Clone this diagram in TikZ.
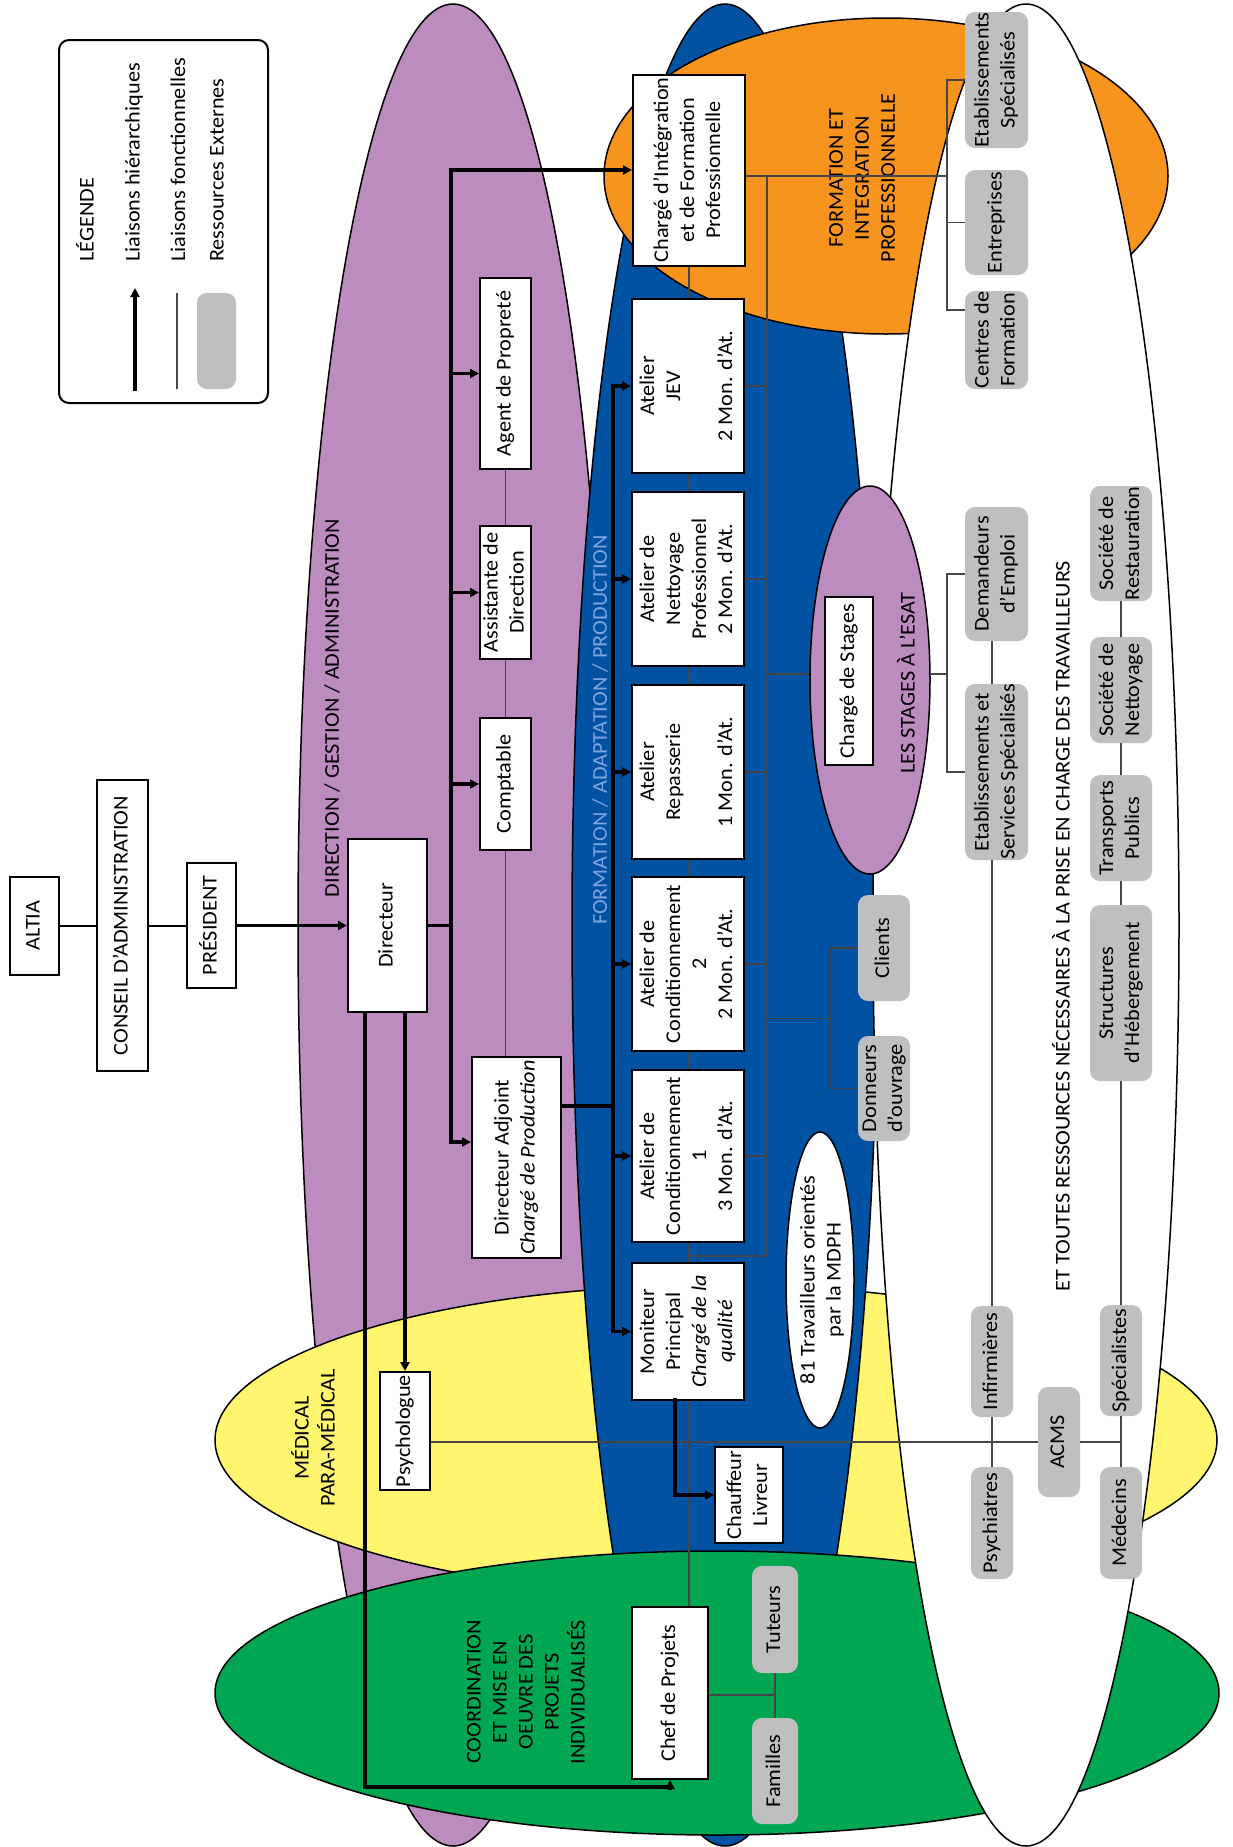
\documentclass[tikz,border=0pt]{standalone}
\usepackage{fontspec}
\setmainfont[FakeStretch=1.06]{Carlito}
\usepackage{graphicx}
\usetikzlibrary{arrows.meta,shapes.geometric}

\definecolor{cpurple}{RGB}{188,140,191}
\definecolor{cblue}{RGB}{2,82,163}
\definecolor{corange}{RGB}{247,148,30}
\definecolor{cyellow}{RGB}{255,245,110}
\definecolor{cgreen}{RGB}{0,166,81}
\definecolor{cgray}{RGB}{191,191,191}
\definecolor{cline}{RGB}{70,70,70}
\definecolor{ctext}{RGB}{125,165,225}

\newcommand{\rt}[1]{\rotatebox{90}{\begin{tabular}{@{}c@{}}#1\end{tabular}}}

\begin{document}
\begin{tikzpicture}[x=1pt,y=-1pt,
  font=\fontsize{21}{26}\selectfont,
  zone/.style={ellipse, draw=black, line width=1.5pt, inner sep=0pt},
  wbox/.style={draw=black, line width=2pt, fill=white, inner sep=0pt},
  gbox/.style={fill=cgray, rounded corners=10pt, inner sep=0pt},
  hier/.style={line width=3.5pt, line cap=rect, -{Triangle[length=9pt,width=9pt]}},
  hline/.style={line width=3.5pt, line cap=rect},
  func/.style={draw=cline, line width=1.2pt},
  lab/.style={inner sep=0pt, rotate=90, align=center},
]
\fill[white] (0,0) rectangle (1232,1847);
\useasboundingbox (0,0) rectangle (1232,1847);

% ---------- zones ----------
\node[zone, fill=cpurple, minimum width=310pt, minimum height=1842pt] (zdir) at (453,925) {};
\node[zone, fill=cyellow, minimum width=1002pt, minimum height=310pt] (zmed) at (716,1440) {};
\node[zone, fill=cblue, minimum width=306pt, minimum height=1842pt] (zfor) at (725,925) {};
\node[zone, fill=cgreen, minimum width=1004pt, minimum height=284pt] (zcoord) at (717,1693) {};
\node[zone, fill=corange, minimum width=564pt, minimum height=316pt] (zfip) at (886,176) {};
\node[zone, fill=white, minimum width=306pt, minimum height=1842pt] (zext) at (1026,925) {};
\node[zone, fill=cpurple, minimum width=120pt, minimum height=388pt] (stg) at (870,680) {};
\node[zone, fill=white, minimum width=68pt, minimum height=296pt] (zmdph) at (820,1280) {};

% ---------- zone labels ----------
\node[lab] (tdir) at (332,708) {DIRECTION / GESTION / ADMINISTRATION};
\node[lab, text=ctext] (tfor) at (600,730) {FORMATION / ADAPTATION / PRODUCTION};
\node[lab] (tfip) at (862,178) {FORMATION ET\\INTEGRATION\\PROFESSIONNELLE};
\node[lab] (tstg) at (906,683) {LES STAGES À L’ESAT};
\node[lab] (tmed) at (313,1438) {MÉDICAL\\PARA-MÉDICAL};
\node[lab] (tcoord) at (526,1692) {COORDINATION\\ET MISE EN\\OEUVRE DES\\PROJETS\\INDIVIDUALISÉS};
\node[lab] (tet) at (1061,926) {ET TOUTES RESSOURCES NÉCESSAIRES À LA PRISE EN CHARGE DES TRAVAILLEURS};
\node[lab] (tmdph) at (822,1280) {81 Travailleurs orientés\\par la MDPH};

% ---------- legend ----------
\node[draw, line width=2pt, rounded corners=10pt, minimum width=209pt, minimum height=363pt, inner sep=0pt] (legend) at (163.5,221.5) {};
\node[lab, anchor=west] (lg0) at (85,262) {LÉGENDE};
\node[lab, anchor=west] (lg1) at (134,262) {Liaisons hiérarchiques};
\node[lab, anchor=west] (lg2) at (178,262) {Liaisons fonctionnelles};
\node[lab, anchor=west] (lg3) at (217,262) {Ressources Externes};
\coordinate (la1) at (135,389);
\coordinate (la2) at (135,288);
\draw[hier] (la1) -- (la2);
\coordinate (lf1) at (177,389);
\coordinate (lf2) at (177,293);
\draw[func] (lf1) -- (lf2);
\node[gbox, minimum width=39pt, minimum height=96pt] (lgray) at (216.5,341) {};

% ---------- junction coordinates ----------
\coordinate (g1) at (767,176);
\coordinate (g2) at (767,1256);
\coordinate (f1) at (947,176);
\coordinate (f2) at (947,310);
\coordinate (s1) at (947,674);
\coordinate (k1) at (830.6,1018.6);

% ---------- boxes ----------
\node[wbox, minimum width=49pt, minimum height=98pt] (altia) at (34.5,925.5) {\rt{ALTIA}};
\node[wbox, minimum width=51pt, minimum height=291pt] (ca) at (122.5,925.5) {\rt{CONSEIL D’ADMINISTRATION}};
\node[wbox, minimum width=49pt, minimum height=125pt] (pres) at (211.5,925.5) {\rt{PRÉSIDENT}};
\node[wbox, minimum width=79pt, minimum height=173pt] (dir) at (387.5,925.5) {\rt{Directeur}};
\node[wbox, minimum width=51pt, minimum height=191pt] (agent) at (505.5,373.5) {};
\node[wbox, minimum width=51pt, minimum height=133pt] (assist) at (505.5,592.5) {};
\node[wbox, minimum width=51pt, minimum height=132pt] (compt) at (505.5,784) {};
\node[wbox, minimum width=89pt, minimum height=201pt] (da) at (516.5,1157.5) {};
\node[wbox, minimum width=112pt, minimum height=191pt] (cifp) at (689,170) {};
\node[wbox, minimum width=112pt, minimum height=174pt] (jev) at (688,386) {};
\node[wbox, minimum width=112pt, minimum height=174pt] (net) at (688,579) {};
\node[wbox, minimum width=112pt, minimum height=174pt] (rep) at (688,772) {};
\node[wbox, minimum width=112pt, minimum height=174pt] (c2) at (688,964) {};
\node[wbox, minimum width=112pt, minimum height=172pt] (c1) at (688,1156) {};
\node[wbox, minimum width=112pt, minimum height=137pt] (mon) at (688,1331.5) {};
\node[wbox, minimum width=76pt, minimum height=172pt] (chef) at (670,1693) {};
\node[wbox, minimum width=50pt, minimum height=118pt] (psy) at (405,1431) {};
\node[gbox, minimum width=42pt, minimum height=110pt] (acms) at (1059,1442) {};
\node[gbox, minimum width=42pt, minimum height=111pt] (inf) at (992,1361.5) {};
\node[gbox, minimum width=42pt, minimum height=112pt] (psyc) at (992,1523) {};
\node[gbox, minimum width=42pt, minimum height=111pt] (spec) at (1121,1360.5) {};
\node[gbox, minimum width=42pt, minimum height=112pt] (med) at (1121,1523) {};
\node[gbox, minimum width=46pt, minimum height=107pt] (tut) at (775,1619.5) {};
\node[gbox, minimum width=46pt, minimum height=106pt] (fam) at (775,1771) {};
\node[gbox, minimum width=52pt, minimum height=106pt] (cli) at (884,948) {};
\node[gbox, minimum width=52pt, minimum height=105pt] (don) at (884,1088.5) {};
\node[gbox, minimum width=63pt, minimum height=136pt] (etabs) at (996.5,80) {};
\node[gbox, minimum width=63pt, minimum height=105pt] (ent) at (996.5,222.5) {};
\node[gbox, minimum width=63pt, minimum height=98pt] (cent) at (996.5,340) {};
\node[gbox, minimum width=63pt, minimum height=134pt] (dem) at (996.5,574) {};
\node[gbox, minimum width=63pt, minimum height=176pt] (etss) at (996.5,772) {};
\node[gbox, minimum width=62pt, minimum height=115pt] (rest) at (1121,543.5) {};
\node[gbox, minimum width=62pt, minimum height=106pt] (snet) at (1121,690) {};
\node[gbox, minimum width=62pt, minimum height=106pt] (trans) at (1121,828) {};
\node[gbox, minimum width=62pt, minimum height=176pt] (struct) at (1121,993) {};

% ---------- functional (thin) links ----------
\draw[func] (agent.south) -- (assist.north);
\draw[func] (assist.south) -- (compt.north);
\draw[func] (compt.south) -- (compt.south |- da.north);
\draw[func] (cifp.south) -- (cifp.south |- jev.north);
\foreach \p/\q in {jev/net, net/rep, rep/c2, c2/c1} {\draw[func] (\p.south -| cifp.south) -- (\q.north -| cifp.south);}
\draw[func] (c1.south -| cifp.south) -- (mon.north -| cifp.south);
\draw[func] (mon.south -| cifp.south) -- (chef.north -| cifp.south);
\draw[func] (cifp.east |- f1) -- (f1);
\draw[func] (g1) -- (g2) -- (g2 -| cifp.south);
\foreach \n in {jev,net,rep,c2,c1} {\draw[func] (\n.east) -- (\n.east -| g1);}
\draw[func] (etabs.west) -- (etabs.west -| f1) -- (f2) -- (f2 -| cent.west);
\draw[func] (ent.west) -- (ent.west -| f1);
\draw[func] (g1 |- s1) -- (stg.west |- s1);
\draw[func] (stg.east |- s1) -- (s1);
\draw[func] (dem.west) -- (dem.west -| s1) -- (etss.west -| s1) -- (etss.west);
\draw[func] (g1 |- k1) -- (k1);
\draw[func] (cli.west) -- (cli.west -| k1) -- (don.west -| k1) -- (don.west);
\draw[func] (dem.south -| inf.north) -- (etss.north -| inf.north);
\draw[func] (etss.south -| inf.north) -- (inf.north);
\draw[func] (inf.south) -- (psyc.north);
\draw[func] (rest.south) -- (snet.north);
\draw[func] (snet.south) -- (trans.north);
\draw[func] (trans.south) -- (struct.north);
\draw[func] (struct.south) -- (spec.north);
\draw[func] (spec.south) -- (med.north);
\draw[func] (psy.east |- acms.west) -- (acms.west);
\draw[func] (acms.east) -- (acms.east -| spec.south);
\draw[func] (chef.east |- 0,1695) -- (tut.south |- 0,1695);
\draw[func] (tut.south) -- (fam.north);

% ---------- box texts ----------
\node at (agent) {\rt{Agent de Propreté}};
\node at (assist) {\rt{Assistante de\\Direction}};
\node at (compt) {\rt{Comptable}};
\node at (da) {\rt{Directeur Adjoint\\\textit{Chargé de Production}}};
\node at (cifp) {\rt{Chargé d’Intégration\\et de Formation\\Professionnelle}};
\node at (jev) {\rt{Atelier\\JEV\\ \\2 Mon. d’At.}};
\node at (net) {\rt{Atelier de\\Nettoyage\\Professionnel\\2 Mon. d’At.}};
\node at (rep) {\rt{Atelier\\Repasserie\\ \\1 Mon. d’At.}};
\node at (c2) {\rt{Atelier de\\Conditionnement\\2\\2 Mon. d’At.}};
\node at (c1) {\rt{Atelier de\\Conditionnement\\1\\3 Mon. d’At.}};
\node at (mon) {\rt{Moniteur\\Principal\\\textit{Chargé de la}\\\textit{qualité}}};
\node at (chef) {\rt{Chef de Projets}};
\node[inner sep=0pt] at (psy) {\rt{Psychologue}};
\node at (acms) {\rt{ACMS}};
\node at (inf) {\rt{Infirmières}};
\node at (psyc) {\rt{Psychiatres}};
\node at (spec) {\rt{Spécialistes}};
\node at (med) {\rt{Médecins}};
\node at (tut) {\rt{Tuteurs}};
\node at (fam) {\rt{Familles}};
\node at (cli) {\rt{Clients}};
\node at (don) {\rt{Donneurs\\d’ouvrage}};
\node at (etabs) {\rt{Etablissements\\Spécialisés}};
\node at (ent) {\rt{Entreprises}};
\node at (cent) {\rt{Centres de\\Formation}};
\node at (dem) {\rt{Demandeurs\\d’Emploi}};
\node[inner sep=0pt] at (etss) {\rt{Etablissements et\\Services Spécialisés}};
\node at (rest) {\rt{Société de\\Restauration}};
\node at (snet) {\rt{Société de\\Nettoyage}};
\node at (trans) {\rt{Transports\\Publics}};
\node at (struct) {\rt{Structures\\d’Hébergement}};

\node[wbox, minimum width=68pt, minimum height=96pt] (chauf) at (749,1495) {\rt{Chauffeur\\Livreur}};
\node[wbox, minimum width=48pt, minimum height=168pt] (cstg) at (849,681) {\rt{Chargé de Stages}};

% ---------- hierarchical (thick) links ----------
\draw[line width=2pt] (altia) -- (ca);
\draw[line width=2pt] (ca) -- (pres);
\draw[hier] (pres) -- (dir);
\coordinate (b1m) at (451,925.5);
\coordinate (b1t) at (451,170);
\coordinate (b1b) at (451,1142);
\draw[hline] (dir.east) -- (b1m);
\draw[hier] (b1m) -- (b1t) -- (cifp.west);
\draw[hier] (b1m) -- (b1b) -- (b1b -| da.west);
\draw[hier] (b1m |- agent.west) -- (agent.west);
\draw[hier] (b1m |- assist.west) -- (assist.west);
\draw[hier] (b1m |- compt.west) -- (compt.west);
\coordinate (b2m) at (613,1106);
\coordinate (b2t) at (613,386);
\coordinate (b2b) at (613,1331.5);
\draw[hline] (da.east |- b2m) -- (b2m);
\draw[hier] (b2m) -- (b2t) -- (jev.west);
\draw[hier] (b2m) -- (b2b) -- (mon.west);
\foreach \n in {net,rep,c2,c1} {\draw[hier] (b2m |- \n.west) -- (\n.west);}
\draw[hier] (dir.south -| psy.north) -- (psy.north);
\coordinate (cc) at (365,1787);
\draw[hier] (dir.south -| cc) -- (cc) -| (chef.south);
\coordinate (mc) at (675,1400);
\draw[hier] (mc) |- (chauf.west);
\end{tikzpicture}
\end{document}
